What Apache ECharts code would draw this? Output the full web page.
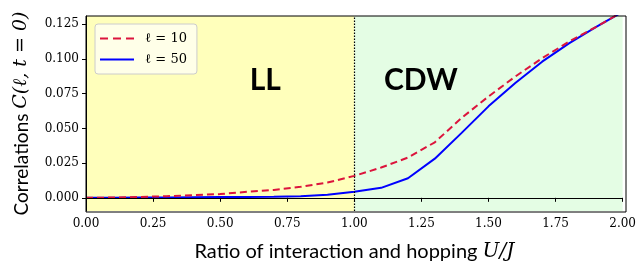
<!DOCTYPE html>
<html>
<head>
<meta charset="utf-8">
<script src="https://cdn.jsdelivr.net/npm/echarts@6/dist/echarts.min.js"></script>
<style>
html,body{margin:0;padding:0;background:#fff;}
#psLine{width:639px;height:267px;}
</style>
</head>
<body>
<div id="psLine"></div>
<script>
var ratioU = [0.0,0.1,0.2,0.3,0.4,0.5,0.6,0.7,0.8,0.9,1.0,1.1,1.2,1.3,1.4,1.5,1.6,1.7,1.8,1.9,2.0];
var corrL10 = [0.0,0.0002,0.0006,0.0012,0.0019,0.0027,0.0043,0.0057,0.0079,0.011,0.0158,0.0218,0.029,0.040,0.0576,0.073,0.0874,0.1006,0.1125,0.123,0.134];
var corrL50 = [0.0,0.0001,0.0002,0.0003,0.0004,0.0005,0.0006,0.0008,0.0012,0.0022,0.0043,0.0072,0.0141,0.0282,0.0468,0.0659,0.0827,0.0981,0.1113,0.123,0.134];
var yTicks = [0,0.025,0.05,0.075,0.1,0.125];
var phaseNames = ['LL','CDW'];

function pairs(xs, ys){
	var out = [];
	for (var i = 0; i < xs.length; i++) out.push([xs[i], ys[i]]);
	return out;
}

var serifFont = '"DejaVu Serif", serif';
var sansFont = 'Lato, "DejaVu Sans", sans-serif';
//legend icons: dashed and solid strokes
var dashIcon = 'path://M0,0h8v2h-8z M13,0h8v2h-8z M26,0h8v2h-8z';
var solidIcon = 'path://M0,0h34v2h-34z';

var psLineChar = echarts.init(document.getElementById('psLine'));
psLineChar.setOption({
	animation: false,
	grid: {left: 86, right: 13, top: 16, bottom: 55},
	legend: {
		left: 95, top: 24, orient: 'vertical',
		itemWidth: 34, itemHeight: 2.5, itemGap: 8,
		padding: [8, 10, 8, 5],
		backgroundColor: 'rgba(255,255,240,0.85)',
		borderColor: '#ccc', borderWidth: 1, borderRadius: 3,
		textStyle: {fontFamily: serifFont, fontSize: 13, color: '#000', padding: [0, 0, 0, 6]},
		data: [{name: 'ℓ = 10', icon: dashIcon}, {name: 'ℓ = 50', icon: solidIcon}]
	},
	xAxis: {
		type: 'value', min: 0, max: 2, interval: 0.25, z: 10,
		name: '{a|Ratio of interaction and hopping }{b|U/J}',
		nameLocation: 'middle', nameGap: 31,
		nameTextStyle: {rich: {
			a: {fontFamily: sansFont, fontSize: 20, color: '#000'},
			b: {fontFamily: serifFont, fontStyle: 'italic', fontSize: 20, color: '#000'}
		}},
		axisLine: {lineStyle: {color: '#000', width: 1}},
		axisTick: {length: 4, lineStyle: {color: '#000'}},
		axisLabel: {fontFamily: serifFont, fontSize: 12, color: '#000', margin: 7,
			formatter: function(v){ return v.toFixed(2); }},
		splitLine: {show: false}
	},
	yAxis: {
		type: 'value', min: -0.0095, max: 0.131, z: 10,
		name: '{a|Correlations }{b|C(ℓ, t = 0)}',
		nameLocation: 'middle', nameGap: 55,
		nameTextStyle: {rich: {
			a: {fontFamily: sansFont, fontSize: 19, color: '#000'},
			b: {fontFamily: serifFont, fontStyle: 'italic', fontSize: 19, color: '#000'}
		}},
		axisLine: {show: true, lineStyle: {color: '#000', width: 1}},
		axisTick: {show: true, length: 4, customValues: yTicks, lineStyle: {color: '#000'}},
		axisLabel: {fontFamily: serifFont, fontSize: 12, color: '#000', margin: 7, customValues: yTicks,
			formatter: function(v){ return v.toFixed(3); }},
		splitLine: {show: false}
	},
	graphic: [
		{type: 'rect', z: 100, silent: true, shape: {x: 86, y: 16, width: 540, height: 196},
			style: {fill: 'none', stroke: '#000', lineWidth: 1}}
	],
	series: [
		{
			name: 'bg', type: 'line', data: [], silent: true,
			markArea: {
				silent: true,
				itemStyle: {opacity: 1},
				data: [
					[{xAxis: 0, itemStyle: {color: '#ffffbb'}}, {xAxis: 1}],
					[{xAxis: 1, itemStyle: {color: '#e4fde4'}}, {xAxis: 2}]
				]
			},
			markLine: {
				silent: true, symbol: 'none', label: {show: false},
				data: [
					{yAxis: 0, lineStyle: {color: '#000', width: 1, type: 'solid'}},
					{xAxis: 1, lineStyle: {color: '#000', width: 1.2, type: [1.5, 1.5]}}
				]
			},
			markPoint: {
				silent: true, symbol: 'rect', symbolSize: 1,
				itemStyle: {color: 'transparent'},
				label: {show: true, position: 'inside', fontFamily: 'Lato, "DejaVu Sans", sans-serif', fontWeight: 'bold', fontSize: 30, color: '#000',
					formatter: function(p){ return p.name; }},
				data: [
					{name: phaseNames[0], coord: [0.668, 0.0843]},
					{name: phaseNames[1], coord: [1.248, 0.0843]}
				]
			}
		},
		{
			name: 'ℓ = 10', type: 'line', symbol: 'none', z: 4,
			data: pairs(ratioU, corrL10),
			lineStyle: {color: '#dc143c', width: 2, type: [7, 4]},
			itemStyle: {color: '#dc143c'}
		},
		{
			name: 'ℓ = 50', type: 'line', symbol: 'none', z: 3,
			data: pairs(ratioU, corrL50),
			lineStyle: {color: '#0000ff', width: 2},
			itemStyle: {color: '#0000ff'}
		}
	]
});
</script>
</body>
</html>
